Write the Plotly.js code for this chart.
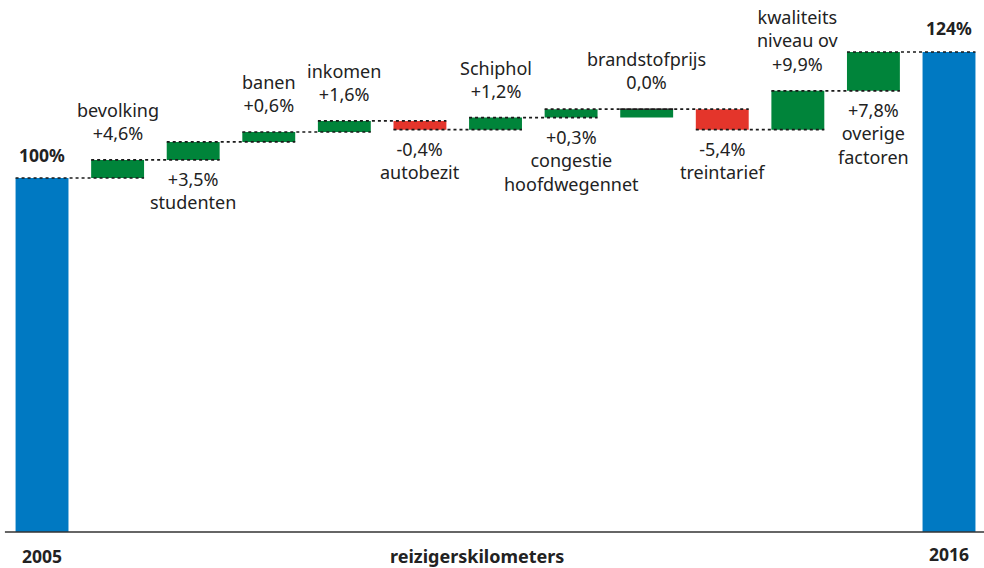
<!DOCTYPE html>
<html>
<head>
<meta charset="utf-8">
<script src="https://cdn.plot.ly/plotly-3.0.1.min.js"></script>
<style>html,body{margin:0;padding:0;background:#fff;}#chart{width:984px;height:568px;}</style>
</head>
<body>
<div id="chart"></div>
<script>
// ---- data ----
const startYear = '2005';
const endYear = '2016';
const startValue = 100;          // %
const endValue = 124;            // %
const totalLabels = ['100%', '124%'];
const stepNames = ['bevolking', 'studenten', 'banen', 'inkomen', 'autobezit', 'Schiphol',
  'congestie<br>hoofdwegennet', 'brandstofprijs', 'treintarief', 'kwaliteits<br>niveau ov', 'overige<br>factoren'];
const stepLabels = ['+4,6%', '+3,5%', '+0,6%', '+1,6%', '-0,4%', '+1,2%', '+0,3%', '0,0%', '-5,4%', '+9,9%', '+7,8%'];
// bar heights as drawn in the (schematic) picture, in axis units
const stepHeights = [3.43, 3.43, 1.9, 2.1, -1.66, 2.3, 1.6, 0, -3.9, 7.4, 7.4];
const zeroStepDepth = 1.6;       // drawn depth of the 0,0% bar
const axisTitle = 'reizigerskilometers';

// ---- styling / layout config ----
const labelSide = ['above', 'below', 'above', 'above', 'below', 'above', 'below', 'above', 'below', 'above', 'below'];
const BLUE = '#0079c2', GREEN = '#00843a', RED = '#e4352b';
const FONT = 'Noto Sans, Open Sans, sans-serif';
const BW = 0.7;

// ---- build bars ----
const n = stepHeights.length;
const xs = [], bases = [], heights = [], colors = [];
const endLevels = [];
xs.push(0); bases.push(0); heights.push(startValue); colors.push(BLUE); endLevels.push(startValue);
let level = startValue;
const barTop = [], barBottom = [];
for (let i = 0; i < n; i++) {
  const h = stepHeights[i];
  const x = i + 1;
  xs.push(x);
  if (h === 0) {
    bases.push(level - zeroStepDepth); heights.push(zeroStepDepth); colors.push(GREEN);
    barTop.push(level); barBottom.push(level - zeroStepDepth);
  } else {
    bases.push(Math.min(level, level + h)); heights.push(Math.abs(h)); colors.push(h > 0 ? GREEN : RED);
    barTop.push(Math.max(level, level + h)); barBottom.push(Math.min(level, level + h));
  }
  level += h;
  endLevels.push(level);
}
xs.push(n + 1); bases.push(0); heights.push(level); colors.push(BLUE); endLevels.push(level);

// connectors
const cx = [], cy = [];
for (let i = 1; i < xs.length; i++) {
  const L = endLevels[i - 1];
  cx.push(xs[i - 1] - BW / 2, xs[i] + BW / 2, null);
  cy.push(L, L, null);
}

const traces = [
  { type: 'bar', x: xs, y: heights, base: bases, width: BW,
    marker: { color: colors, line: { width: 0 } }, hoverinfo: 'skip', showlegend: false },
  { type: 'scatter', mode: 'lines', x: cx, y: cy,
    line: { color: '#1a1a1a', width: 1.7, dash: 'dot' }, hoverinfo: 'skip', showlegend: false }
];

const LBL = { family: FONT, size: 18, color: '#222' };
const BLD = { family: FONT, size: 17.5, color: '#222' };
const annotations = [];
for (let i = 0; i < n; i++) {
  const above = labelSide[i] === 'above';
  annotations.push({
    x: i + 1, y: above ? barTop[i] : barBottom[i], xref: 'x', yref: 'y',
    text: above ? stepNames[i] + '<br>' + stepLabels[i] : stepLabels[i] + '<br>' + stepNames[i],
    showarrow: false, xanchor: 'center', yanchor: above ? 'bottom' : 'top',
    yshift: above ? 13 : -5,
    font: LBL
  });
}
annotations.push({ x: 0, y: startValue, xref: 'x', yref: 'y', text: '<b>' + totalLabels[0] + '</b>',
  showarrow: false, yanchor: 'bottom', yshift: 9, font: BLD });
annotations.push({ x: n + 1, y: level, xref: 'x', yref: 'y', text: '<b>' + totalLabels[1] + '</b>',
  showarrow: false, yanchor: 'bottom', yshift: 10, font: BLD });
annotations.push({ x: 0, y: 0, xref: 'x', yref: 'paper', text: '<b>' + startYear + '</b>',
  showarrow: false, yanchor: 'top', yshift: -10, font: BLD });
annotations.push({ x: n + 1, y: 0, xref: 'x', yref: 'paper', text: '<b>' + endYear + '</b>',
  showarrow: false, yanchor: 'top', yshift: -8, font: BLD });
annotations.push({ x: 0.485, y: 0, xref: 'paper', yref: 'paper', text: '<b>' + axisTitle + '</b>',
  showarrow: false, yanchor: 'top', yshift: -10, font: { family: FONT, size: 18, color: '#222' } });

const layout = {
  width: 984, height: 568,
  margin: { l: 0, r: 0, t: 0, b: 36 },
  paper_bgcolor: '#fff', plot_bgcolor: '#fff',
  xaxis: { range: [-0.556, 12.463], showgrid: false, zeroline: false, showticklabels: false, ticks: '', showline: false },
  yaxis: { range: [32.57, 133.9], showgrid: false, zeroline: false, showticklabels: false, ticks: '', showline: false },
  shapes: [{ type: 'line', xref: 'paper', yref: 'paper', x0: 0.005, x1: 1, y0: 0, y1: 0,
    line: { color: '#333', width: 1.5 } }],
  annotations: annotations,
  showlegend: false
};

Plotly.newPlot('chart', traces, layout, { displayModeBar: false, staticPlot: true });
</script>
</body>
</html>
